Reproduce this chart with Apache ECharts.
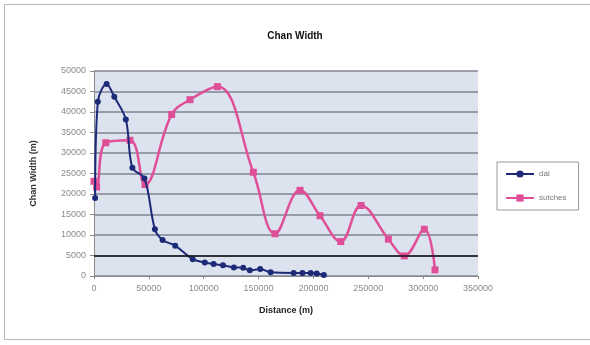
<!DOCTYPE html>
<html>
<head>
<meta charset="utf-8">
<script src="https://cdn.jsdelivr.net/npm/echarts@6/dist/echarts.min.js"></script>
<style>
html,body{margin:0;padding:0;background:#fff;}
#frame{position:absolute;left:4px;top:4px;width:590px;height:336px;border:1px solid #b8b8b8;border-right:none;box-sizing:border-box;}
#chart{position:absolute;left:0;top:0;width:590px;height:345px;}
</style>
</head>
<body>
<div id="frame"></div>
<div id="chart"></div>
<script>
const titleText = "Chan Width";
const xAxisName = "Distance (m)";
const yAxisName = "Chan Width (m)";
const seriesNames = ["dal", "sutches"];

const dalDistance = [1000, 3500, 11500, 18500, 29000, 35000, 46000, 55500, 62500, 74000, 90000, 101000, 109000, 117500, 127500, 136000, 142000, 151500, 161000, 182000, 190000, 197500, 203000, 209500];
const dalWidth = [19000, 42500, 46800, 43700, 38200, 26400, 23800, 11400, 8800, 7400, 4100, 3300, 2900, 2600, 2100, 2000, 1400, 1700, 900, 750, 750, 750, 600, 250];

const sutchesDistance = [0, 2400, 10700, 32800, 46500, 70800, 87500, 112500, 145200, 165000, 187800, 206000, 224900, 243400, 268300, 282800, 301100, 310800];
const sutchesWidth = [23100, 21700, 32500, 33100, 22300, 39400, 43000, 46200, 25300, 10300, 20900, 14700, 8400, 17200, 9000, 4900, 11400, 1500];

const refLineValue = 5000;

function pairs(xs, ys){ return xs.map((x,i)=>[x, ys[i]]); }

const chart = echarts.init(document.getElementById('chart'), null, {renderer:'canvas'});
const labelFont = {color:'#8c8c8c', fontSize:9, fontFamily:'Liberation Sans, Arial, sans-serif', formatter:(v)=>String(v)};
chart.setOption({
  backgroundColor:'transparent',
  animation:false,
  title:{
    text:titleText, left:'center', top:26,
    textStyle:{fontSize:10, fontWeight:'bold', color:'#111', fontFamily:'Liberation Sans, Arial, sans-serif'}
  },
  grid:{left:94, right:112, top:71, bottom:69, show:true, backgroundColor:'#dde3ee', borderWidth:0},
  legend:{
    orient:'vertical', left:497, top:162,
    padding:[8,12,8,8], itemGap:16,
    backgroundColor:'#ffffff', borderColor:'#9a9a9a', borderWidth:1, borderRadius:0,
    itemWidth:28, itemHeight:9,
    textStyle:{fontSize:8, color:'#777', fontFamily:'Liberation Sans, Arial, sans-serif'},
    data:seriesNames
  },
  xAxis:{
    type:'value', min:0, max:350000, interval:50000,
    name:xAxisName, nameLocation:'middle', nameGap:30,
    nameTextStyle:{fontSize:9, fontWeight:'bold', color:'#222', fontFamily:'Liberation Sans, Arial, sans-serif'},
    axisLine:{show:true, lineStyle:{color:'#8a8a8a', width:1}},
    axisTick:{show:true, length:3, inside:false, lineStyle:{color:'#8a8a8a'}},
    axisLabel:Object.assign({margin:8}, labelFont),
    splitLine:{show:false}
  },
  yAxis:{
    type:'value', min:0, max:50000, interval:5000,
    name:yAxisName, nameLocation:'middle', nameGap:56, nameRotate:90,
    nameTextStyle:{fontSize:9, fontWeight:'bold', color:'#333', fontFamily:'Liberation Sans, Arial, sans-serif'},
    axisLine:{show:true, lineStyle:{color:'#8a8a8a', width:1}},
    axisTick:{show:true, length:4, lineStyle:{color:'#8a8a8a'}},
    axisLabel:Object.assign({margin:8}, labelFont),
    splitLine:{show:true, lineStyle:{color:'#7f8491', width:1.5}}
  },
  series:[
    {
      name:seriesNames[0], type:'line', smooth:0.35,
      data:pairs(dalDistance, dalWidth),
      symbol:'circle', symbolSize:6,
      itemStyle:{color:'#1d2a78'},
      lineStyle:{color:'#1d2a78', width:2},
      z:3,
      markLine:{
        silent:true, symbol:['none','none'], label:{show:false},
        lineStyle:{color:'#111', width:1.5, type:'solid'},
        data:[{yAxis:refLineValue}]
      }
    },
    {
      name:seriesNames[1], type:'line', smooth:0.4,
      data:pairs(sutchesDistance, sutchesWidth),
      symbol:'rect', symbolSize:7,
      itemStyle:{color:'#df4f98'},
      lineStyle:{color:'#df4f98', width:2.5},
      z:2
    }
  ]
});
</script>
</body>
</html>
